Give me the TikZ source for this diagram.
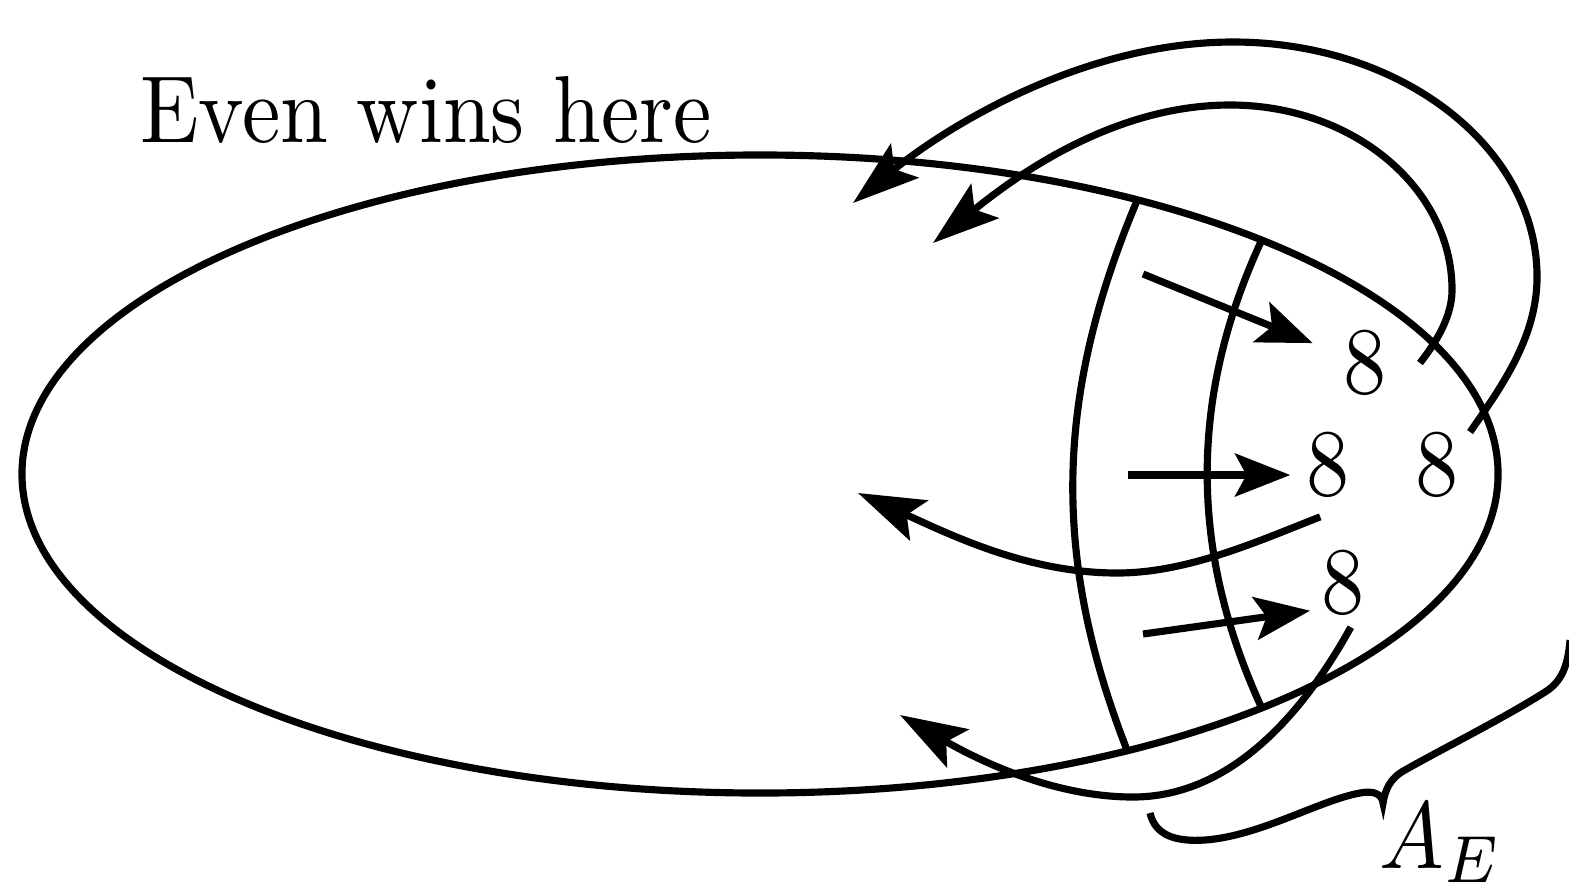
\documentclass[tikz,border=0pt]{standalone}
\usetikzlibrary{arrows.meta,shapes.geometric}
\newcommand{\squeeze}[1]{\scalebox{0.905}[1]{#1}}
\tikzset{
  outline/.style={draw,ellipse,line width=0.75pt,minimum width=154.98pt,minimum height=66.99pt,inner sep=0pt,outer sep=0pt},
  eight/.style={inner sep=1pt},
  band/.style={line width=0.75pt},
  push/.style={-{Stealth[length=5.8pt,width=4.5pt,inset=1.2pt]},line width=0.75pt},
  escape/.style={-{Stealth[length=7pt,width=4.6pt,inset=1.4pt]},line width=0.75pt}
}

\begin{document}
\begin{tikzpicture}[x=0.105pt,y=-0.105pt]
  \useasboundingbox (0,0) rectangle (1569,882);
  \node[outline] (win) at (760,474) {};
  \node[anchor=base,inner sep=0pt] (title) at (426,143) {\squeeze{Even wins here}};
  \node[eight] (e1) at (1365,363) {\squeeze{8}};
  \node[eight] (e2) at (1328,465) {\squeeze{8}};
  \node[eight] (e4) at (1437,465) {\squeeze{8}};
  \node[eight] (e3) at (1343,583) {\squeeze{8}};
  \node[anchor=base west,inner sep=0pt] (ae) at (1378,868) {\squeeze{$A_E$}};

  \draw[band] (win.36.9) .. controls (1053,400) and (1053,560) .. (win.-37.8);
  \draw[band] (win.25.2) .. controls (1189,397) and (1189,550) .. (win.-25);

  \coordinate (a0) at (1143,274);
  \coordinate (b0) at (1128,475);
  \coordinate (c0) at (1143,634);
  \draw[push,shorten >=2.2pt] (a0) -- (e1.160);
  \draw[push,shorten >=0.5pt] (b0) -- (b0 -| e2.west);
  \draw[push] (c0) -- (e3.220);

  \coordinate (d1) at (933,243);
  \coordinate (o1) at (853,203);
  \coordinate (p1) at (858,493);
  \coordinate (q1) at (900,715);
  \draw[escape] ([xshift=2.3pt]e1.east) .. controls (1438,340) and (1452,315) .. (1452,290)
    .. controls (1452,188) and (1353,105) .. (1230,105)
    .. controls (1110,105) and (1011,180) .. (d1);
  \draw[escape] (e4.45) .. controls (1502,386) and (1537,337) .. (1537,277)
    .. controls (1537,147) and (1401,42) .. (1233,42)
    .. controls (1083,42) and (946,127) .. (o1);
  \draw[escape] ([yshift=-0.8pt]e2.-100) .. controls (1256,542) and (1187,573) .. (1117,573)
    .. controls (1027,573) and (949,534) .. (p1);
  \draw[escape] (e3.-80) .. controls (1305,710) and (1233,797) .. (1133,797)
    .. controls (1053,797) and (978,760) .. (q1);

  \draw[band] (1150,813) .. controls (1155,835) and (1175,842) .. (1205,840)
    .. controls (1260,836) and (1320,800) .. (1360,793)
    .. controls (1375,790) and (1382,795) .. (1383,803)
    .. controls (1385,790) and (1390,778) .. (1405,770)
    .. controls (1440,750) and (1510,715) .. (1548,690)
    .. controls (1562,680) and (1568,665) .. (1570,640);
\end{tikzpicture}
\end{document}
